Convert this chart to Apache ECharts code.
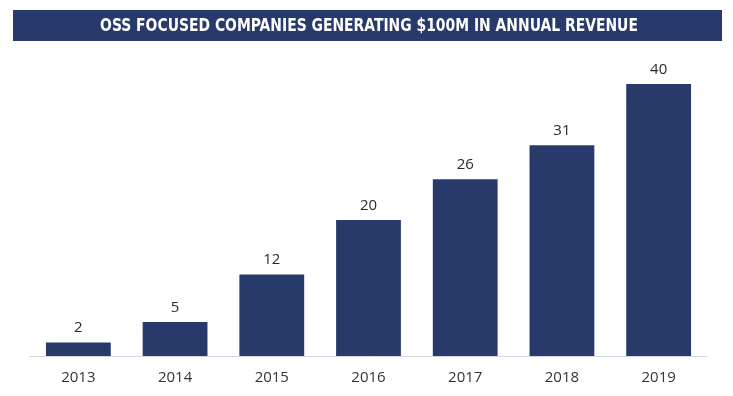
<!DOCTYPE html>
<html><head><meta charset="utf-8">
<script src="https://cdn.jsdelivr.net/npm/echarts@6/dist/echarts.min.js"></script>
<style>html,body{margin:0;padding:0;background:#fff}#c{width:733px;height:396px}</style>
</head><body><div id="c"></div>
<script>
const titleText = 'OSS FOCUSED COMPANIES GENERATING $100M IN ANNUAL REVENUE';
const categories = ['2013','2014','2015','2016','2017','2018','2019'];
const values = [2,5,12,20,26,31,40];
const chart = echarts.init(document.getElementById('c'));
chart.setOption({
  animation:false,
  graphic:[
    {type:'rect',shape:{x:13,y:10,width:709,height:31},style:{fill:'#273a6b'}},
    {type:'text',x:369,y:26.5,scaleX:0.91,style:{text:titleText,fill:'#fff',align:'center',verticalAlign:'middle',
      font:'bold 17px "DejaVu Sans Condensed", sans-serif'}}
  ],
  grid:{left:30,right:26,top:84,bottom:40},
  xAxis:{type:'category',data:categories,
    axisLine:{lineStyle:{color:'#d3d8e8',width:1}},axisTick:{show:false},
    axisLabel:{color:'#333',fontSize:15,margin:14,fontFamily:'"Open Sans", sans-serif'}},
  yAxis:{type:'value',min:0,max:40,show:false,splitLine:{show:false}},
  series:[{type:'bar',data:values,barWidth:'67%',itemStyle:{color:'#283a6a'},
    label:{show:true,position:'top',distance:7,color:'#2a2a2a',fontSize:15,fontFamily:'"Open Sans", sans-serif'}}]
});
</script></body></html>
